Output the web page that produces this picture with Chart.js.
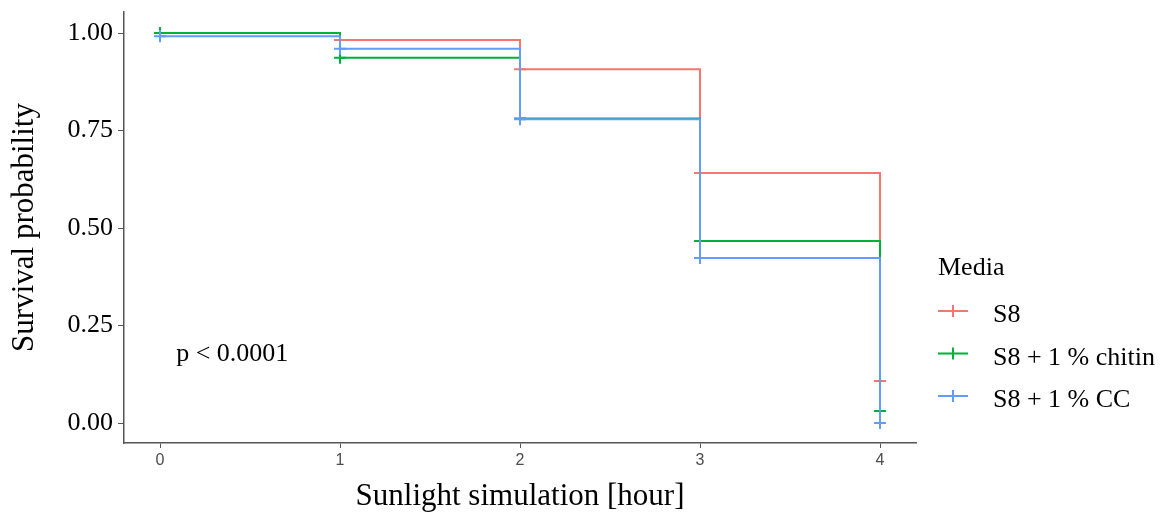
<!DOCTYPE html>
<html>
<head>
<meta charset="utf-8">
<title>Survival under sunlight simulation</title>
<script src="https://cdn.jsdelivr.net/npm/chart.js@4.4.1/dist/chart.umd.min.js"></script>
<style>
  html, body { margin: 0; padding: 0; background: #ffffff; }
  #wrap { width: 1168px; height: 517px; position: relative; }
</style>
</head>
<body>
<div id="wrap"><canvas id="km" width="1168" height="517"></canvas></div>
<script>
// Kaplan-Meier estimates per medium, sampled at each sunlight hour
const times = [0, 1, 2, 3, 4];
const groups = ['S8', 'S8 + 1 % chitin', 'S8 + 1 % CC'];
const survS8 = [1.000, 0.982, 0.907, 0.641, 0.108];
const survChitin = [1.000, 0.937, 0.781, 0.467, 0.031];
const survCC = [0.992, 0.960, 0.779, 0.423, 0.000];

const xTicks = [0, 1, 2, 3, 4];
const yTicks = [0, 0.25, 0.5, 0.75, 1];

const legendTitle = 'Media';
const pLabel = 'p < 0.0001';
const pAt = { x: 0.09, y: 0.16 };

const palette = ['#F8766D', '#00B139', '#619CFF'];
const serif = "'Liberation Serif', 'Times New Roman', serif";
const axisGrey = '#555555';

const series = [survS8, survChitin, survCC];

const datasets = series.map((vals, i) => ({
  label: groups[i],
  data: times.map((t, k) => ({ x: t, y: vals[k] })),
  stepped: true,
  borderColor: palette[i],
  backgroundColor: palette[i],
  borderWidth: 2,
  pointStyle: 'cross',
  pointRadius: 6,
  pointBorderWidth: 2,
  pointBorderColor: palette[i],
  pointHoverRadius: 6,
  fill: false,
  // later groups are painted over earlier ones
  order: series.length - i
}));

// p-value text and the legend on the right
const annotate = {
  id: 'annotate',
  afterDatasetsDraw(chart) {
    const { ctx, chartArea, scales } = chart;
    ctx.save();
    ctx.fillStyle = '#000000';
    ctx.font = '26px ' + serif;
    ctx.textAlign = 'left';
    ctx.textBaseline = 'alphabetic';
    ctx.fillText(pLabel, scales.x.getPixelForValue(pAt.x), scales.y.getPixelForValue(pAt.y));

    const lx = chartArea.right + 22;
    ctx.fillText(legendTitle, lx, 275);
    groups.forEach((g, i) => {
      const cy = 311 + i * 42.5;
      ctx.strokeStyle = palette[i];
      ctx.lineWidth = 2;
      ctx.beginPath();
      ctx.moveTo(lx, cy); ctx.lineTo(lx + 30, cy);
      ctx.moveTo(lx + 15, cy - 6); ctx.lineTo(lx + 15, cy + 6);
      ctx.stroke();
      ctx.fillStyle = '#000000';
      ctx.fillText(g, lx + 55, cy + 11);
    });
    ctx.restore();
  }
};

new Chart(document.getElementById('km'), {
  type: 'line',
  data: { datasets },
  plugins: [annotate],
  options: {
    responsive: false,
    animation: false,
    devicePixelRatio: 1,
    layout: { padding: { top: 12, right: 252, left: 0, bottom: 0 } },
    plugins: { legend: { display: false }, tooltip: { enabled: false } },
    scales: {
      x: {
        type: 'linear',
        min: -0.2,
        max: 4.2,
        afterBuildTicks: s => { s.ticks = xTicks.map(v => ({ value: v })); },
        afterFit: s => { s.height = 74; s.paddingLeft = 0; s.paddingRight = 0; },
        grid: { display: true, drawOnChartArea: false, drawTicks: true, tickLength: 5, color: axisGrey, lineWidth: 1 },
        border: { display: true, color: axisGrey, width: 1.5 },
        ticks: {
          font: { family: "'Liberation Sans Narrow', 'Liberation Sans', Arial, sans-serif", size: 16 },
          color: '#4D4D4D',
          padding: 3,
          maxRotation: 0,
          callback: v => String(v)
        },
        title: {
          display: true,
          text: 'Sunlight simulation [hour]',
          font: { family: serif, size: 31 },
          color: '#000000',
          padding: { top: 0, bottom: 2 }
        }
      },
      y: {
        type: 'linear',
        min: -0.051,
        max: 1.054,
        afterBuildTicks: s => { s.ticks = yTicks.map(v => ({ value: v })); },
        afterFit: s => { s.width = 124; s.paddingTop = 0; s.paddingBottom = 0; },
        grid: { display: true, drawOnChartArea: false, drawTicks: true, tickLength: 6, color: axisGrey, lineWidth: 1 },
        border: { display: true, color: axisGrey, width: 1.5 },
        ticks: {
          font: { family: serif, size: 26 },
          color: '#000000',
          padding: 5,
          callback: v => Number(v).toFixed(2)
        },
        title: {
          display: true,
          text: 'Survival probability',
          font: { family: serif, size: 31 },
          color: '#000000',
          padding: { top: 6, bottom: 0 }
        }
      }
    }
  }
});
</script>
</body>
</html>
